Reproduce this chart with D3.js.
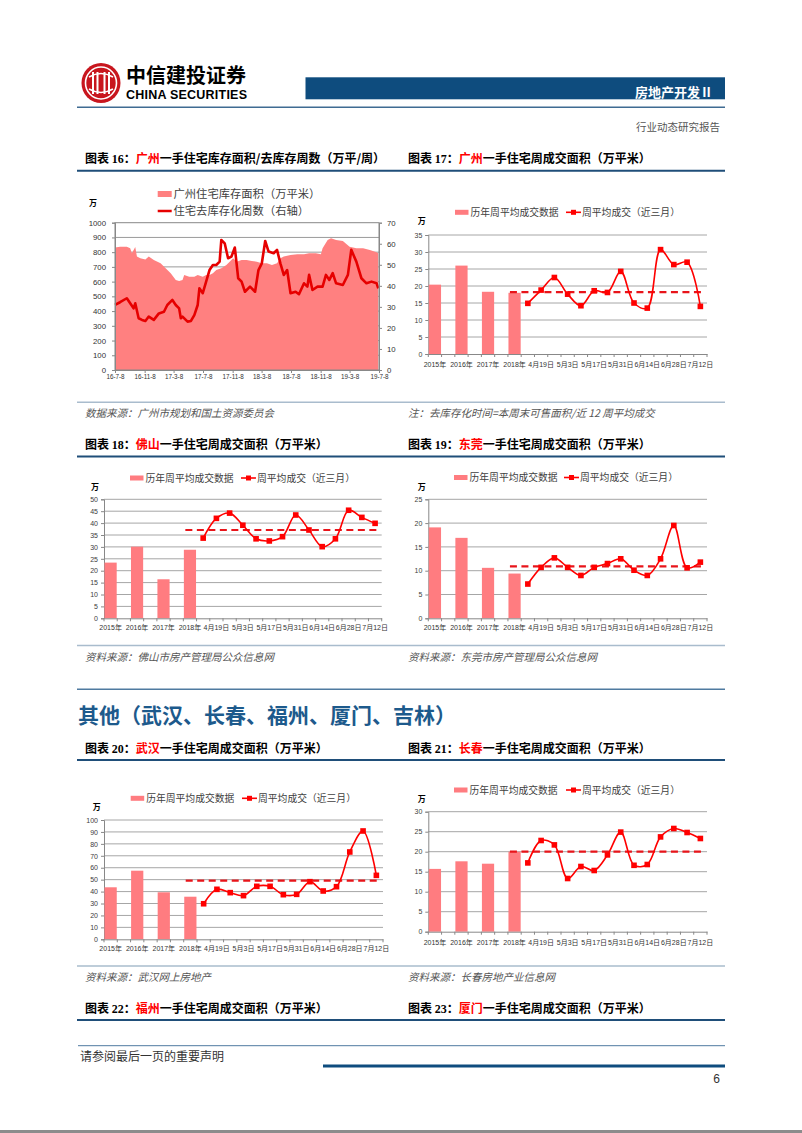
<!DOCTYPE html>
<html>
<head>
<meta charset="utf-8">
<script src="https://cdn.jsdelivr.net/npm/d3@7"></script>
<style>
  body { margin: 0; background: #fff; }
  svg { display: block; }
</style>
</head>
<body>
<script>
// ---- data ----
// chart 16: Guangzhou inventory (weeks since 2016-07-08)
const invWeek = [0,3,7,9,10,12,13,15,18,20,23,27,30,33,36,38,40,41,44,47,49,52,54,56,58,60,63,66,70,72,75,78,81,84,87,90,93,96,98,100,104,108,112,115,119,122,123,126,128,131,135,139,143,147,151,155,156];
const invArea = [832,837,837,826,792,835,770,758,751,770,747,724,690,656,611,604,611,645,633,633,645,633,645,645,656,679,690,713,758,735,747,747,740,735,724,724,713,724,758,770,781,785,785,792,792,785,826,882,894,882,876,837,826,826,814,799,792];
const rateWeek = [0,3,7,9,11,12,14,16,18,20,23,26,29,31,34,36,38,39,40,43,45,47,49,50,52,54,56,58,60,62,63,65,67,69,71,73,75,77,80,83,85,87,89,91,94,96,98,100,102,104,107,109,112,114,115,117,120,123,125,127,129,131,135,138,140,143,146,149,152,155,156];
const rateVal = [30.9,32.2,34.1,31.7,29.3,31.7,24.6,23.8,23.3,25.4,23.8,26.9,27.7,30.9,33.3,30.9,29.3,24.6,25.4,23.0,23.3,26.1,30.9,38.8,36.5,42.0,47.5,49.9,49.9,51.5,61.8,60.2,53.1,53.9,58.2,43.6,42.0,37.2,39.6,37.2,47.5,50.7,61.3,56.3,55.5,57.1,50.7,45.2,47.5,36.5,37.2,36.0,41.2,39.6,45.2,38.0,39.6,39.6,45.2,42.8,46.0,41.2,40.4,45.2,57.1,51.5,43.6,41.2,42.0,41.2,38.8];
const gzTickLabels = ["16-7-8","16-11-8","17-3-8","17-7-8","17-11-8","18-3-8","18-7-8","18-11-8","19-3-8","19-7-8"];

// combo charts: yearly bars + weekly line
const yearCats = ["2015年","2016年","2017年","2018年"];
const weekCats = ["4月12日","4月19日","4月26日","5月3日","5月10日","5月17日","5月24日","5月31日","6月7日","6月14日","6月21日","6月28日","7月5日","7月12日"];

const gzBars = [20.4, 26.0, 18.3, 18.0];
const gzLine = [14.9,18.8,22.5,17.6,14.2,18.6,18.1,24.3,15.0,13.5,30.7,26.3,27.0,14.0];
const gzAvg = 18.2;

const fsBars = [23.4, 30.1, 16.4, 28.8];
const fsLine = [33.7,42.0,44.2,39.1,33.4,32.5,34.3,43.4,37.1,30.1,33.4,45.4,42.4,39.9];
const fsAvg = 37.1;

const dgBars = [19.1, 16.9, 10.6, 9.4];
const dgLine = [7.2,10.7,12.7,10.7,9.0,10.7,11.5,12.5,10.1,9.0,12.5,19.5,10.6,11.8];
const dgAvg = 10.9;

const whBars = [43.6, 57.5, 39.4, 35.7];
const whLine = [29.8,41.9,39.1,36.6,44.4,44.4,37.4,37.7,48.3,40.5,44.1,73.2,90.8,53.6];
const whAvg = 49.1;

const ccBars = [15.7, 17.6, 17.0, 20.0];
const ccLine = [17.2,22.8,21.7,13.3,16.3,15.3,19.2,24.9,16.6,16.8,23.7,25.8,24.8,23.3];
const ccAvg = 20.0;

// ---- page ----
const CJK = "'Noto Sans CJK SC','Noto Sans',sans-serif";
const NUM = "'Liberation Sans',Arial,'Noto Sans CJK SC',sans-serif";
const BAR = "#ff7c80";
const RED = "#ff0000";
const BLUE = "#0e4c7e";

const svg = d3.select("body").append("svg")
    .attr("width", 802)
    .attr("height", 1133);

// header logo
const logo = svg.append("g").attr("transform", "translate(101,83)");
logo.append("ellipse").attr("rx", 19.5).attr("ry", 20).attr("fill", "#c8161e");
logo.append("ellipse").attr("rx", 15.5).attr("ry", 16).attr("fill", "none")
    .attr("stroke", "#fff").attr("stroke-width", 1.6);
[-8, -3.5, 3.5, 8].forEach(function (dx) {
    logo.append("rect").attr("x", dx - 1).attr("y", -11).attr("width", 2).attr("height", 22).attr("fill", "#fff");
});
logo.append("path").attr("d", "M-12,-6 Q0,-13 12,-6 M-12,6 Q0,13 12,6")
    .attr("fill", "none").attr("stroke", "#fff").attr("stroke-width", 1.6);

svg.append("text").attr("x", 126).attr("y", 83)
    .attr("font-family", CJK).attr("font-weight", 700).attr("font-size", 20)
    .text("中信建投证券");
svg.append("text").attr("x", 126).attr("y", 98.5)
    .attr("font-family", NUM).attr("font-weight", 700).attr("font-size", 12.5)
    .attr("textLength", 121).text("CHINA SECURITIES");

svg.append("rect").attr("x", 305.5).attr("y", 77.3).attr("width", 419.5).attr("height", 22).attr("fill", BLUE);
svg.append("text").attr("x", 713).attr("y", 97).attr("text-anchor", "end")
    .attr("font-family", CJK).attr("font-weight", 700).attr("font-size", 13).attr("fill", "#fff")
    .text("房地产开发Ⅱ");
svg.append("line").attr("x1", 77).attr("x2", 725).attr("y1", 107.3).attr("y2", 107.3)
    .attr("stroke", "#3f6b92").attr("stroke-width", 1.5);
svg.append("text").attr("x", 720).attr("y", 131).attr("text-anchor", "end")
    .attr("font-family", CJK).attr("font-size", 10.5).attr("fill", "#555")
    .text("行业动态研究报告");

// chart titles and rules
function title(x, y, num, city, rest) {
    const t = svg.append("text").attr("x", x).attr("y", y)
        .attr("font-family", CJK).attr("font-weight", 700).attr("font-size", 12);
    t.append("tspan").text("图表 ");
    t.append("tspan").attr("font-family", "'Liberation Serif',serif").text(num);
    t.append("tspan").text("：");
    t.append("tspan").attr("fill", "#ff0000").text(city);
    t.append("tspan").text(rest);
}
function rule(y, color, w) {
    svg.append("line").attr("x1", 77).attr("x2", 725).attr("y1", y).attr("y2", y)
        .attr("stroke", color).attr("stroke-width", w);
}
function source(x, y, txt) {
    svg.append("text").attr("x", x).attr("y", y)
        .attr("font-family", CJK).attr("font-size", 10.5).attr("font-style", "italic")
        .attr("fill", "#555").text(txt);
}

title(85, 162.8, "16", "广州", "一手住宅库存面积/去库存周数（万平/周）");
title(408, 162.8, "17", "广州", "一手住宅周成交面积（万平米）");
rule(170.7, "#1f4e79", 2);
rule(402.3, "#a9bccd", 1.5);
source(85, 416.5, "数据来源：广州市规划和国土资源委员会");
source(408, 416.5, "注：去库存化时间=本周末可售面积/近 12 周平均成交");

title(85, 448.5, "18", "佛山", "一手住宅周成交面积（万平米）");
title(408, 448.5, "19", "东莞", "一手住宅周成交面积（万平米）");
rule(456.5, "#1f4e79", 2);
rule(645.5, "#a9bccd", 1.5);
source(85, 660.5, "资料来源：佛山市房产管理局公众信息网");
source(408, 660.5, "资料来源：东莞市房产管理局公众信息网");

rule(689.3, "#4f7aa0", 1.5);
svg.append("text").attr("x", 78).attr("y", 723)
    .attr("font-family", CJK).attr("font-weight", 700).attr("font-size", 21).attr("fill", "#1d5a8c")
    .text("其他（武汉、长春、福州、厦门、吉林）");

title(85, 752.5, "20", "武汉", "一手住宅周成交面积（万平米）");
title(408, 752.5, "21", "长春", "一手住宅周成交面积（万平米）");
rule(760, "#1f4e79", 2);
rule(966, "#a9bccd", 1.5);
source(85, 981, "资料来源：武汉网上房地产");
source(408, 981, "资料来源：长春房地产业信息网");

title(85, 1012.5, "22", "福州", "一手住宅周成交面积（万平米）");
title(408, 1012.5, "23", "厦门", "一手住宅周成交面积（万平米）");
rule(1020, "#1f4e79", 2);

// footer
svg.append("line").attr("x1", 78).attr("x2", 725).attr("y1", 1045.7).attr("y2", 1045.7)
    .attr("stroke", "#4f7aa0").attr("stroke-width", 1);
svg.append("text").attr("x", 80).attr("y", 1061)
    .attr("font-family", CJK).attr("font-size", 12).attr("fill", "#333")
    .text("请参阅最后一页的重要声明");
svg.append("line").attr("x1", 323).attr("x2", 725).attr("y1", 1066).attr("y2", 1066)
    .attr("stroke", BLUE).attr("stroke-width", 3);
svg.append("text").attr("x", 720).attr("y", 1083).attr("text-anchor", "end")
    .attr("font-family", NUM).attr("font-size", 12).attr("fill", "#333").text("6");
svg.append("rect").attr("x", 0).attr("y", 1130).attr("width", 802).attr("height", 3).attr("fill", "#8c8c8c");

// ---- chart 16 ----
(function () {
    const L = 115, R = 379, T = 222.7, B = 370;
    const base = new Date(2016, 6, 8);
    const wk = w => d3.timeDay.offset(base, w * 7);
    const tickDates = gzTickLabels.map(s => {
        const p = s.split("-");
        return new Date(2000 + +p[0], +p[1] - 1, +p[2]);
    });
    const x = d3.scaleTime().domain([base, new Date(2019, 6, 8)]).range([L, R]);
    const yL = d3.scaleLinear().domain([0, 1000]).range([B, T]);
    const yR = d3.scaleLinear().domain([0, 70]).range([B, T]);
    const g = svg.append("g");

    g.selectAll(".grid").data(d3.range(100, 1000, 100)).join("line")
        .attr("x1", L).attr("x2", R).attr("y1", d => yL(d)).attr("y2", d => yL(d))
        .attr("stroke", "#9a9a9a").attr("stroke-width", 1);

    const area = d3.area().x((d, i) => x(wk(invWeek[i]))).y0(B).y1(d => yL(d));
    g.append("path").datum(invArea).attr("d", area).attr("fill", "#ff8080");

    const line = d3.line().x((d, i) => x(wk(rateWeek[i]))).y(d => yR(d));
    g.append("path").datum(rateVal).attr("d", line)
        .attr("fill", "none").attr("stroke", "#e60000").attr("stroke-width", 2.6)
        .attr("stroke-linejoin", "round");

    g.append("rect").attr("x", L).attr("y", T).attr("width", R - L).attr("height", B - T)
        .attr("fill", "none").attr("stroke", "#888");

    const axL = g.append("g").attr("transform", `translate(${L},0)`)
        .call(d3.axisLeft(yL).tickValues(d3.range(0, 1001, 100)).tickFormat(d3.format("d"))
            .tickSize(3).tickPadding(6));
    const axR = g.append("g").attr("transform", `translate(${R},0)`)
        .call(d3.axisRight(yR).tickValues(d3.range(0, 71, 10)).tickSize(3).tickPadding(5));
    const axB = g.append("g").attr("transform", `translate(0,${B})`)
        .call(d3.axisBottom(x).tickValues(tickDates).tickFormat((d, i) => gzTickLabels[i])
            .tickSize(3).tickPadding(2));
    [axL, axR, axB].forEach(a => {
        a.select(".domain").attr("stroke", "#888");
        a.selectAll(".tick line").attr("stroke", "#888");
        a.selectAll("text").attr("font-family", NUM).attr("fill", "#333");
    });
    axL.selectAll("text").attr("font-size", 7.8);
    axR.selectAll("text").attr("font-size", 7.8);
    axB.selectAll("text").attr("font-size", 6.3);

    // legend
    g.append("rect").attr("x", 157.7).attr("y", 191).attr("width", 14).attr("height", 6).attr("fill", "#ff8080");
    g.append("text").attr("x", 173.5).attr("y", 197.8).attr("font-family", CJK).attr("font-size", 11.3)
        .attr("fill", "#404040").text("广州住宅库存面积（万平米）");
    g.append("line").attr("x1", 157.7).attr("x2", 171.7).attr("y1", 211).attr("y2", 211)
        .attr("stroke", "#e60000").attr("stroke-width", 2.5);
    g.append("text").attr("x", 173.5).attr("y", 215).attr("font-family", CJK).attr("font-size", 11.3)
        .attr("fill", "#404040").text("住宅去库存化周数（右轴）");
    g.append("text").attr("x", 93).attr("y", 205.7).attr("text-anchor", "middle")
        .attr("font-family", CJK).attr("font-weight", 700).attr("font-size", 8).text("万");
})();

// ---- combo charts ----
const slots = ["2015年", "_a", "2016年", "_b", "2017年", "_c", "2018年"].concat(weekCats);
const labelSlots = yearCats.concat(weekCats.filter((d, i) => i % 2 === 1));

function combo(c) {
    const g = svg.append("g");
    const x = d3.scaleBand().domain(slots).range([c.left, c.right]).padding(0);
    const bw = x.bandwidth();
    const y = d3.scaleLinear().domain([0, c.max]).range([c.bottom, c.top]);
    const ticks = d3.range(0, c.max + 0.001, c.step);

    g.selectAll(".grid").data(ticks.slice(1)).join("line")
        .attr("x1", c.left).attr("x2", c.right).attr("y1", d => y(d)).attr("y2", d => y(d))
        .attr("stroke", "#a6a6a6").attr("stroke-width", 1);

    const ay = g.append("g").attr("transform", `translate(${c.left},0)`)
        .call(d3.axisLeft(y).tickValues(ticks).tickSize(3).tickPadding(3));
    ay.selectAll("text").attr("font-size", 7).attr("font-family", NUM).attr("fill", "#404040");

    g.selectAll(".bar").data(c.bars).join("rect")
        .attr("x", (d, i) => x(yearCats[i]) + bw * 0.04)
        .attr("width", bw * 0.92)
        .attr("y", d => y(d))
        .attr("height", d => y(0) - y(d))
        .attr("fill", BAR);

    const ax = g.append("g").attr("transform", `translate(0,${c.bottom})`)
        .call(d3.axisBottom(x).tickValues(labelSlots).tickSize(0).tickSizeOuter(0).tickPadding(c.labPad));
    ax.selectAll("text").attr("font-size", 7).attr("font-family", NUM).attr("fill", "#333");
    g.selectAll(".slotTick").data(slots.concat(["end"])).join("line")
        .attr("x1", d => d === "end" ? c.right : x(d))
        .attr("x2", d => d === "end" ? c.right : x(d))
        .attr("y1", c.bottom).attr("y2", c.bottom + 3);
    [ay, ax].forEach(a => {
        a.select(".domain").attr("stroke", "#888");
        a.selectAll(".tick line").attr("stroke", "#888");
    });
    g.selectAll("line:not([stroke])").attr("stroke", "#888");

    g.append("line")
        .attr("x1", x("2018年") + 2).attr("x2", c.right - 3)
        .attr("y1", y(c.avg)).attr("y2", y(c.avg))
        .attr("stroke", "#e8141a").attr("stroke-width", 2.2).attr("stroke-dasharray", "7,4.5");

    const line = d3.line()
        .x((d, i) => x(weekCats[i]) + bw / 2)
        .y(d => y(d))
        .curve(d3.curveCatmullRom.alpha(0.5));
    g.append("path").datum(c.line).attr("d", line)
        .attr("fill", "none").attr("stroke", RED).attr("stroke-width", 1.6);
    g.selectAll(".pt").data(c.line).join("rect")
        .attr("x", (d, i) => x(weekCats[i]) + bw / 2 - 2.8)
        .attr("y", d => y(d) - 2.8)
        .attr("width", 5.6).attr("height", 5.6)
        .attr("fill", RED);

    // legend
    g.append("rect").attr("x", c.legBX).attr("y", c.legY - 2.5).attr("width", 13.5).attr("height", 5).attr("fill", BAR);
    g.append("text").attr("x", c.legBX + 15.5).attr("y", c.legY + 3.5)
        .attr("font-family", CJK).attr("font-size", 9.8).attr("fill", "#404040").text("历年周平均成交数据");
    g.append("line").attr("x1", c.legLX).attr("x2", c.legLX + 15).attr("y1", c.legY).attr("y2", c.legY)
        .attr("stroke", RED).attr("stroke-width", 1.6);
    g.append("rect").attr("x", c.legLX + 5).attr("y", c.legY - 2.5).attr("width", 5).attr("height", 5).attr("fill", RED);
    g.append("text").attr("x", c.legLX + 16).attr("y", c.legY + 3.5)
        .attr("font-family", CJK).attr("font-size", 9.8).attr("fill", "#404040").text("周平均成交（近三月）");
    g.append("text").attr("x", c.wanX).attr("y", c.wanY + 3).attr("text-anchor", "middle")
        .attr("font-family", CJK).attr("font-weight", 700).attr("font-size", 8).text("万");
}

combo({ left: 428.3, right: 707, top: 235, bottom: 354, max: 35, step: 5, labPad: 8,
    bars: gzBars, line: gzLine, avg: gzAvg, legY: 212.3, legBX: 455, legLX: 566, wanX: 421.7, wanY: 220.7 });
combo({ left: 104, right: 381.7, top: 499.3, bottom: 618.3, max: 50, step: 5, labPad: 7,
    bars: fsBars, line: fsLine, avg: fsAvg, legY: 478, legBX: 130, legLX: 241, wanX: 95, wanY: 486.7 });
combo({ left: 428.3, right: 707, top: 499.3, bottom: 618.3, max: 25, step: 5, labPad: 7,
    bars: dgBars, line: dgLine, avg: dgAvg, legY: 477.5, legBX: 454, legLX: 564, wanX: 421.7, wanY: 486.7 });
combo({ left: 104, right: 383, top: 820, bottom: 939.3, max: 100, step: 10, labPad: 6.5,
    bars: whBars, line: whLine, avg: whAvg, legY: 798.3, legBX: 130.7, legLX: 242, wanX: 96.7, wanY: 807.3 });
combo({ left: 428.3, right: 707, top: 811.7, bottom: 931.7, max: 30, step: 5, labPad: 8,
    bars: ccBars, line: ccLine, avg: ccAvg, legY: 790, legBX: 454, legLX: 566, wanX: 421.7, wanY: 799.3 });
</script>
</body>
</html>
